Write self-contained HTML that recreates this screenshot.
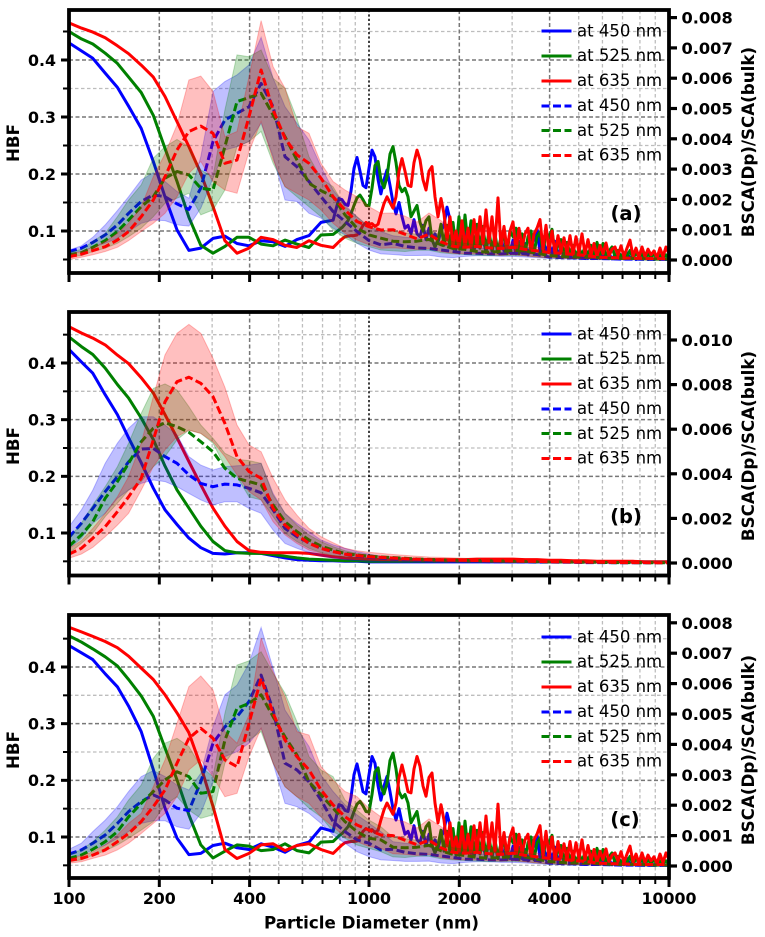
<!DOCTYPE html>
<html lang="en">
<head>
<meta charset="utf-8">
<title>HBF and BSCA versus particle diameter</title>
<style>
html,body{margin:0;padding:0;background:#fff}
svg{display:block}
text{font-family:"DejaVu Sans","Liberation Sans",sans-serif;fill:#000}
.tick-label{font-weight:bold;font-size:15.8px}
.tick-right{font-weight:bold;font-size:16.2px}
.axis-title{font-weight:bold;font-size:16.7px}
.legend-text{font-size:16.5px}
.panel-tag{font-weight:bold;font-size:19.5px}
.spine{fill:none;stroke:#000;stroke-width:3.8}
.h-s{fill:none;stroke-width:3}
.h-d{fill:none;stroke-width:3;stroke-dasharray:8 3.5}
</style>
</head>
<body>
<svg id="figure" width="765" height="937" viewBox="0 0 765 937" xmlns="http://www.w3.org/2000/svg">
<defs>
<clipPath id="clip-a"><rect x="69" y="10" width="600" height="263"/></clipPath>
<clipPath id="clip-b"><rect x="69" y="312" width="600" height="263.5"/></clipPath>
<clipPath id="clip-c"><rect x="69" y="615" width="600" height="263"/></clipPath>
</defs>
<rect width="765" height="937" fill="#fff"/>

<g id="panel-a">
<g id="grid-a"></g>
<g id="marks-a" clip-path="url(#clip-a)"></g>
<g id="ticks-a"></g>
<rect class="spine" x="69" y="10" width="600" height="263"/>
<text class="axis-title" transform="translate(19,143) rotate(-90)" text-anchor="middle">HBF</text>
<text class="axis-title" transform="translate(754,142) rotate(-90)" text-anchor="middle">BSCA(Dp)/SCA(bulk)</text>
<text class="panel-tag" x="626" y="220" text-anchor="middle">(a)</text>
<g>
<g><line class="h-s" x1="541.5" x2="571.5" y1="31" y2="31" stroke="#0000ff"/><text class="legend-text" x="577" y="36.5">at 450 nm</text></g>
<g><line class="h-s" x1="541.5" x2="571.5" y1="56" y2="56" stroke="#008000"/><text class="legend-text" x="577" y="61">at 525 nm</text></g>
<g><line class="h-s" x1="541.5" x2="571.5" y1="81" y2="81" stroke="#ff0000"/><text class="legend-text" x="577" y="86">at 635 nm</text></g>
<g><line class="h-d" x1="541.5" x2="571.5" y1="106" y2="106" stroke="#0000ff"/><text class="legend-text" x="577" y="111">at 450 nm</text></g>
<g><line class="h-d" x1="541.5" x2="571.5" y1="130.5" y2="130.5" stroke="#008000"/><text class="legend-text" x="577" y="136">at 525 nm</text></g>
<g><line class="h-d" x1="541.5" x2="571.5" y1="155.5" y2="155.5" stroke="#ff0000"/><text class="legend-text" x="577" y="160.5">at 635 nm</text></g>
</g>
</g>

<g id="panel-b">
<g id="grid-b"></g>
<g id="marks-b" clip-path="url(#clip-b)"></g>
<g id="ticks-b"></g>
<rect class="spine" x="69" y="312" width="600" height="263.5"/>
<text class="axis-title" transform="translate(19,446) rotate(-90)" text-anchor="middle">HBF</text>
<text class="axis-title" transform="translate(754,446) rotate(-90)" text-anchor="middle">BSCA(Dp)/SCA(bulk)</text>
<text class="panel-tag" x="626" y="523" text-anchor="middle">(b)</text>
<g>
<g><line class="h-s" x1="541.5" x2="571.5" y1="334" y2="334" stroke="#0000ff"/><text class="legend-text" x="577" y="339.5">at 450 nm</text></g>
<g><line class="h-s" x1="541.5" x2="571.5" y1="359" y2="359" stroke="#008000"/><text class="legend-text" x="577" y="364">at 525 nm</text></g>
<g><line class="h-s" x1="541.5" x2="571.5" y1="384" y2="384" stroke="#ff0000"/><text class="legend-text" x="577" y="389">at 635 nm</text></g>
<g><line class="h-d" x1="541.5" x2="571.5" y1="409" y2="409" stroke="#0000ff"/><text class="legend-text" x="577" y="414">at 450 nm</text></g>
<g><line class="h-d" x1="541.5" x2="571.5" y1="433.5" y2="433.5" stroke="#008000"/><text class="legend-text" x="577" y="439">at 525 nm</text></g>
<g><line class="h-d" x1="541.5" x2="571.5" y1="458.5" y2="458.5" stroke="#ff0000"/><text class="legend-text" x="577" y="463.5">at 635 nm</text></g>
</g>
</g>

<g id="panel-c">
<g id="grid-c"></g>
<g id="marks-c" clip-path="url(#clip-c)"></g>
<g id="ticks-c"></g>
<rect class="spine" x="69" y="615" width="600" height="263"/>
<text class="axis-title" transform="translate(19,750) rotate(-90)" text-anchor="middle">HBF</text>
<text class="axis-title" transform="translate(754,750) rotate(-90)" text-anchor="middle">BSCA(Dp)/SCA(bulk)</text>
<text class="panel-tag" x="625" y="826" text-anchor="middle">(c)</text>
<text class="axis-title" x="371.5" y="928.5" text-anchor="middle">Particle Diameter (nm)</text>
<g>
<g><line class="h-s" x1="541.5" x2="571.5" y1="637" y2="637" stroke="#0000ff"/><text class="legend-text" x="577" y="642.5">at 450 nm</text></g>
<g><line class="h-s" x1="541.5" x2="571.5" y1="662" y2="662" stroke="#008000"/><text class="legend-text" x="577" y="667">at 525 nm</text></g>
<g><line class="h-s" x1="541.5" x2="571.5" y1="687" y2="687" stroke="#ff0000"/><text class="legend-text" x="577" y="692">at 635 nm</text></g>
<g><line class="h-d" x1="541.5" x2="571.5" y1="712" y2="712" stroke="#0000ff"/><text class="legend-text" x="577" y="717">at 450 nm</text></g>
<g><line class="h-d" x1="541.5" x2="571.5" y1="736.5" y2="736.5" stroke="#008000"/><text class="legend-text" x="577" y="742">at 525 nm</text></g>
<g><line class="h-d" x1="541.5" x2="571.5" y1="761.5" y2="761.5" stroke="#ff0000"/><text class="legend-text" x="577" y="766.5">at 635 nm</text></g>
</g>
</g>
</svg>

<script>
/* ---- axis data ---- */
const xMajorTicks=[100,200,400,1000,2000,4000,10000];
const xMajorLabels=["100","200","400","1000","2000","4000","10000"];
const xMinorTicks=[300,500,600,700,800,900,3000,5000,6000,7000,8000,9000];
const hbfMajorTicks=[0.1,0.2,0.3,0.4];
const hbfMajorLabels=["0.1","0.2","0.3","0.4"];
const hbfMinorTicks=[0.05,0.15,0.25,0.35,0.45];
const bscaTicksAC=[0,0.001,0.002,0.003,0.004,0.005,0.006,0.007,0.008];
const bscaLabelsAC=["0.000","0.001","0.002","0.003","0.004","0.005","0.006","0.007","0.008"];
const bscaTicksB=[0,0.002,0.004,0.006,0.008,0.010];
const bscaLabelsB=["0.000","0.002","0.004","0.006","0.008","0.010"];

/* ---- particle diameters (nm) ---- */
const diameters=[100,110,120,132,145,158,174,191,209,229,251,275,302,331,363,398,437,479,525,575,631,692,759,832,912,1000,1096,1202,1318,1445,1585,1738,1905,2089,2291,2512,2754,3020,3311,3631,3981,4365,4786,5248,5754,6310,6918,7586,8318,9120,10000];
const diametersFine=[794,813,832,851,871,891,912,933,955,977,1000,1023,1047,1072,1096,1122,1148,1175,1202,1230,1259,1288,1318,1349,1380,1413,1445,1479,1514,1549,1585,1622,1660,1698,1738,1778,1820,1862,1905,1950,1995,2042,2089,2138,2188,2239,2291,2344,2399,2455,2512,2570,2630,2692,2754,2818,2884,2951,3020,3090,3162,3236,3311,3388,3467,3548,3631,3715,3802,3890,3981,4074,4169,4266,4365,4467,4571,4677,4786,4898,5012,5129,5248,5370,5495,5623,5754,5888,6026,6166,6310,6457,6607,6761,6918,7079,7244,7413,7586,7762,7943,8128,8318,8511,8710,8913,9120,9333,9550,9772,10000];

/* ---- HBF x1000: resonant part above 800 nm, panels a and c ---- */
const hbfFineBlue=[157,155,147,145,170,210,229,205,180,176,210,242,230,190,165,190,207,180,150,130,150,125,105,110,95,120,95,90,110,85,105,85,95,80,100,110,142,120,85,70,95,68,100,75,95,65,92,70,88,62,95,65,85,62,88,65,80,62,84,60,82,62,78,58,75,85,105,62,90,60,80,60,82,56,72,55,70,54,66,53,62,54,65,52,62,52,66,52,62,52,60,51,58,52,58,51,62,52,56,50,56,51,55,50,54,50,55,50,53,50,52];
const hbfFineGreen=[102,106,112,118,130,145,158,163,155,145,144,175,215,222,190,176,195,235,248,220,180,169,175,160,125,135,145,115,100,118,125,85,72,85,112,75,110,72,115,68,125,70,128,75,118,68,112,70,108,65,100,65,95,62,90,95,60,100,90,105,60,95,60,90,100,60,90,98,60,100,88,103,60,75,85,58,80,60,75,55,70,58,72,56,75,54,80,58,78,55,65,72,55,66,54,62,55,66,52,62,54,60,52,60,53,60,52,58,53,58,52];
const hbfFineRed=[81,86,90,91,92,92,93,100,110,115,112,113,108,112,130,148,160,150,140,160,205,227,205,180,178,220,242,225,190,172,205,213,160,125,157,130,84,125,75,100,70,118,72,105,70,120,75,125,78,137,80,125,75,158,72,108,68,100,116,65,105,70,95,105,62,95,105,120,68,110,62,100,60,92,64,88,60,92,58,90,62,95,60,85,58,78,55,75,60,79,56,68,72,57,74,55,70,84,56,70,54,72,55,68,58,65,53,70,55,72,60];

/* ---- HBF x1000 below 800 nm ---- */
const hbfBlueA=[430,416,403,377,352,319,280,222,160,102,66,70,87,91,78,74,83,81,73,85,92,115,119];
const hbfGreenA=[450,437,428,412,394,370,343,303,245,187,124,75,61,73,89,89,77,74,84,77,71,93,94];
const hbfRedA=[465,456,449,439,425,411,391,370,336,292,248,201,143,83,61,70,89,85,75,71,83,75,71];
const hbfBlueC=[438,425,413,388,365,331,286,219,151,98,69,71,85,89,81,78,88,82,73,85,91,116,110];
const hbfGreenC=[455,444,432,418,402,378,349,313,257,201,139,86,63,75,86,84,76,78,88,76,72,91,92];
const hbfRedC=[470,462,454,445,434,419,398,378,351,319,284,225,154,78,62,71,86,88,76,85,88,78,71];
const hbfBlueB=[424,402,382,344,309,268,224,179,141,115,91,74,64,63,65,65,64,60,56,53,52,51,51,50,50,49,49,49,49,49,49,49,49,49,49,49,49,49,49,49,49,49,49,49,49,49,49,49,49,49,49];
const hbfGreenB=[446,429,415,391,362,338,303,265,218,176,144,112,85,69,65,64,64,62,59,56,54,53,52,51,51,50,50,50,50,50,50,50,50,50,50,50,50,50,50,50,49,49,49,49,49,49,49,49,49,49,49];
const hbfRedB=[464,453,444,432,414,399,374,347,309,268,226,185,144,112,85,69,66,65,65,65,64,61,58,56,55,54,53,53,53,53,53,53,53,53,54,54,54,54,53,53,52,52,51,51,50,50,50,50,49,49,49];

/* ---- BSCA/SCA x1000, above 1100 nm, panels a and c ---- */
const bscaTailBlue=[0.55,0.45,0.40,0.38,0.33,0.28,0.22,0.22,0.20,0.20,0.22,0.20,0.18,0.10,0.08,0.07,0.05,0.05,0.04,0.03,0.03,0.02,0.02,0.02];
const bscaTailBlueLow=[0.18,0.15,0.15,0.16,0.10,0.08,0.12,0.14,0.14,0.12,0.12,0.10,0.08,0.05,0.04,0.03,0.03,0.02,0.02,0.01,0.01,0.01,0.01,0.01];
const bscaTailBlueHigh=[0.80,0.75,0.72,0.62,0.55,0.48,0.42,0.40,0.38,0.35,0.38,0.33,0.25,0.15,0.12,0.10,0.08,0.07,0.06,0.05,0.04,0.04,0.03,0.03];
const bscaTailGreen=[0.62,0.60,0.62,0.68,0.50,0.38,0.35,0.28,0.26,0.28,0.32,0.30,0.22,0.15,0.12,0.10,0.10,0.08,0.06,0.05,0.05,0.04,0.03,0.03];
const bscaTailGreenLow=[0.30,0.28,0.32,0.32,0.24,0.20,0.18,0.16,0.14,0.15,0.15,0.14,0.10,0.07,0.05,0.04,0.04,0.03,0.02,0.02,0.02,0.01,0.01,0.01];
const bscaTailGreenHigh=[0.95,0.90,0.85,1.00,0.80,0.60,0.55,0.50,0.45,0.48,0.50,0.45,0.35,0.25,0.20,0.16,0.14,0.12,0.10,0.08,0.07,0.06,0.05,0.04];
const bscaTailRed=[1.00,0.85,0.70,0.85,0.60,0.45,0.42,0.45,0.40,0.38,0.42,0.35,0.30,0.25,0.22,0.18,0.15,0.10,0.08,0.07,0.06,0.05,0.05,0.04];
const bscaTailRedLow=[0.40,0.38,0.35,0.38,0.28,0.22,0.20,0.20,0.18,0.16,0.18,0.14,0.10,0.08,0.06,0.05,0.04,0.03,0.03,0.02,0.02,0.01,0.01,0.01];
const bscaTailRedHigh=[1.55,1.45,1.25,1.55,1.30,0.95,0.70,0.70,0.62,0.58,0.60,0.50,0.42,0.35,0.30,0.25,0.20,0.15,0.12,0.10,0.09,0.08,0.07,0.06];

/* ---- BSCA/SCA x1000, panel a ---- */
const bscaBlueA=[0.28,0.39,0.58,0.83,1.16,1.54,1.93,2.15,2.09,1.85,1.67,2.37,3.91,4.62,4.84,5.06,5.83,5.06,3.41,3.08,2.59,2.09,1.60,1.27,0.94,0.64,0.50];
const bscaBlueLowA=[0.22,0.28,0.42,0.55,0.72,0.94,1.21,1.32,1.30,1.16,1.12,1.71,2.70,3.63,3.74,3.91,4.51,3.41,1.98,1.93,1.54,1.38,1.05,0.83,0.55,0.33,0.20];
const bscaBlueHighA=[0.33,0.47,0.75,1.16,1.63,2.09,2.64,2.88,2.59,2.26,2.04,3.41,5.56,5.89,6.11,6.44,7.35,6.00,5.06,4.51,3.96,3.08,2.31,1.82,1.43,1.10,0.94];
const bscaGreenA=[0.17,0.24,0.42,0.64,0.94,1.32,1.76,2.09,2.70,2.92,2.81,2.37,2.31,3.74,5.23,5.36,5.50,4.79,4.07,3.30,2.53,2.29,2.09,1.49,1.05,0.83,0.72];
const bscaGreenLowA=[0.10,0.15,0.28,0.39,0.55,0.77,1.05,1.43,1.87,2.04,2.20,1.49,1.65,2.31,3.74,3.91,4.24,3.19,2.42,2.09,1.76,1.43,0.99,0.72,0.55,0.44,0.33];
const bscaGreenHighA=[0.25,0.35,0.61,0.88,1.43,1.98,2.48,3.36,3.74,3.98,3.74,2.97,2.75,4.95,6.77,6.71,6.93,6.00,5.67,4.67,3.41,2.70,2.42,1.76,1.43,1.10,0.99];
const bscaRedA=[0.11,0.19,0.31,0.44,0.66,0.94,1.43,1.98,2.75,3.63,4.24,4.42,4.18,3.19,3.30,4.73,6.27,4.95,4.02,3.47,3.19,2.70,2.09,1.65,1.27,1.10,0.99];
const bscaRedLowA=[0.02,0.09,0.17,0.28,0.42,0.64,0.94,1.21,1.54,2.09,2.86,3.25,2.59,2.31,2.20,3.58,4.57,3.30,2.42,2.20,1.98,1.65,1.21,0.88,0.66,0.50,0.39];
const bscaRedHighA=[0.19,0.28,0.42,0.61,0.88,1.21,1.76,2.75,3.50,4.46,5.94,6.07,5.56,4.07,4.24,6.05,7.90,6.38,5.67,4.40,4.18,3.19,2.59,2.31,2.09,1.76,1.54];

/* ---- BSCA/SCA x1000, panel c ---- */
const bscaBlueC=[0.39,0.53,0.75,1.02,1.40,1.79,2.12,2.34,2.17,1.90,1.82,2.77,4.04,4.58,4.91,5.41,6.28,5.13,3.38,3.16,2.77,2.17,1.46,1.13,0.86,0.75,0.53];
const bscaBlueLowC=[0.25,0.36,0.53,0.69,0.91,1.13,1.40,1.49,1.49,1.29,1.21,1.73,2.77,3.60,3.76,4.04,4.53,3.38,2.06,1.95,1.73,1.40,1.02,0.75,0.47,0.31,0.20];
const bscaBlueHighC=[0.55,0.75,1.13,1.51,1.95,2.45,2.94,3.14,2.94,2.66,2.50,3.05,4.58,5.63,5.95,6.67,7.85,6.50,5.13,4.53,3.93,2.99,2.45,2.01,1.68,1.40,1.13];
const bscaGreenC=[0.25,0.36,0.55,0.80,1.13,1.62,2.06,2.45,2.83,3.10,2.94,2.39,2.45,4.14,5.19,5.35,5.63,4.91,4.25,3.65,2.77,2.34,1.90,1.46,1.13,0.91,0.86];
const bscaGreenLowC=[0.14,0.20,0.36,0.50,0.69,0.91,1.18,1.46,2.01,2.28,1.84,1.57,1.68,3.38,3.93,4.14,4.42,3.38,2.61,2.28,1.90,1.62,1.13,0.91,0.69,0.58,0.47];
const bscaGreenHighC=[0.39,0.53,0.80,1.18,1.62,2.17,2.66,3.54,4.04,4.20,3.93,3.27,2.94,5.02,6.61,6.75,7.05,6.34,5.68,4.75,3.60,3.16,2.94,2.17,1.84,1.51,1.29];
const bscaRedC=[0.18,0.25,0.36,0.53,0.80,1.07,1.46,1.95,2.50,3.38,4.20,4.53,4.20,3.49,3.27,4.69,6.17,5.02,4.14,3.60,3.16,2.50,2.01,1.62,1.35,1.18,1.02];
const bscaRedLowC=[0.09,0.14,0.25,0.36,0.53,0.75,1.07,1.40,1.73,2.28,3.16,3.49,2.94,2.28,2.39,3.60,4.53,3.38,2.61,2.28,2.06,1.62,1.29,0.96,0.80,0.64,0.58];
const bscaRedHighC=[0.25,0.33,0.47,0.69,1.02,1.40,1.73,2.61,3.49,4.69,5.90,6.25,5.79,4.42,4.04,4.97,7.50,6.39,5.57,4.42,4.31,3.27,2.83,2.45,2.28,1.90,1.62];

/* ---- BSCA/SCA x1000, panel b ---- */
const bscaBlueB=[1.15,1.78,2.45,3.20,3.87,4.54,5.11,5.14,4.77,4.47,3.95,3.57,3.42,3.54,3.50,3.35,3.15,2.38,1.55,1.18,0.91,0.66,0.51,0.40,0.31,0.25,0.21,0.17,0.14,0.12,0.10,0.09,0.08,0.07,0.07,0.06,0.06,0.05,0.05,0.04,0.04,0.03,0.03,0.02,0.02,0.02,0.01,0.01,0.01,0.01,0.01];
const bscaBlueLowB=[0.66,1.11,1.78,2.23,2.90,3.27,3.57,3.72,3.65,3.42,3.12,2.83,2.60,2.75,2.75,2.45,2.23,1.48,0.88,0.66,0.46,0.31,0.21,0.15,0.10,0.07,0.06,0.05,0.04,0.03,0.03,0.02,0.02,0.02,0.02,0.02,0.01,0.01,0.01,0.01,0.01,0.01,0.01,0.01,0.00,0.00,0.00,0.00,0.00,0.00,0.00];
const bscaBlueHighB=[1.63,2.38,3.27,4.47,5.37,6.04,6.56,6.56,6.19,5.74,4.77,4.39,4.17,4.32,4.36,4.39,4.47,3.12,2.23,1.78,1.41,1.03,0.81,0.66,0.51,0.40,0.31,0.26,0.22,0.19,0.17,0.15,0.13,0.12,0.10,0.09,0.08,0.07,0.06,0.05,0.05,0.04,0.03,0.03,0.02,0.02,0.02,0.01,0.01,0.01,0.01];
const bscaGreenB=[0.76,1.26,1.85,2.90,3.65,4.47,5.44,6.04,6.29,6.11,5.86,5.44,4.99,4.25,3.80,3.65,3.50,2.60,1.85,1.41,1.03,0.76,0.58,0.43,0.36,0.31,0.27,0.24,0.21,0.18,0.16,0.14,0.13,0.12,0.11,0.10,0.09,0.08,0.07,0.06,0.05,0.05,0.04,0.03,0.03,0.02,0.02,0.02,0.01,0.01,0.01];
const bscaGreenLowB=[0.43,0.88,1.33,2.08,2.68,3.27,3.65,4.32,4.77,5.52,5.96,5.81,5.37,4.32,3.87,2.97,2.83,2.08,1.33,0.96,0.66,0.46,0.33,0.24,0.18,0.13,0.10,0.08,0.07,0.06,0.05,0.04,0.04,0.03,0.03,0.03,0.02,0.02,0.02,0.02,0.01,0.01,0.01,0.01,0.01,0.01,0.00,0.00,0.00,0.00,0.00];
const bscaGreenHighB=[1.11,1.78,2.60,3.42,4.32,5.37,6.71,7.83,8.03,7.76,7.01,6.19,5.59,4.92,4.65,4.59,4.47,3.05,2.23,1.70,1.26,0.96,0.73,0.55,0.43,0.36,0.31,0.28,0.25,0.22,0.20,0.18,0.17,0.15,0.14,0.13,0.12,0.11,0.10,0.09,0.08,0.07,0.06,0.05,0.04,0.03,0.03,0.02,0.02,0.02,0.01];
const bscaRedB=[0.40,0.66,1.11,1.63,2.30,2.97,3.80,5.52,7.23,8.13,8.33,8.06,7.46,6.26,4.77,4.10,3.80,2.45,1.70,1.26,0.88,0.66,0.51,0.40,0.33,0.28,0.25,0.22,0.19,0.17,0.15,0.14,0.13,0.12,0.11,0.10,0.10,0.09,0.08,0.07,0.06,0.05,0.04,0.04,0.03,0.03,0.02,0.02,0.02,0.01,0.01];
const bscaRedLowB=[0.21,0.40,0.70,1.18,1.70,2.23,3.27,4.32,5.07,5.67,5.96,5.81,5.44,4.77,3.95,3.20,2.83,1.85,1.26,0.88,0.58,0.43,0.31,0.24,0.19,0.15,0.12,0.10,0.09,0.08,0.07,0.06,0.06,0.05,0.05,0.04,0.04,0.03,0.03,0.03,0.02,0.02,0.02,0.01,0.01,0.01,0.01,0.00,0.00,0.00,0.00];
const bscaRedHighB=[0.66,1.00,1.55,2.23,2.97,3.87,5.37,7.46,9.33,10.30,10.70,10.30,9.18,7.88,6.19,5.29,4.99,3.80,2.83,2.15,1.55,1.18,0.91,0.66,0.55,0.48,0.43,0.38,0.34,0.30,0.27,0.25,0.23,0.21,0.20,0.19,0.18,0.16,0.14,0.12,0.10,0.09,0.07,0.06,0.05,0.05,0.04,0.03,0.03,0.02,0.02];

/* ---- layout (pixels) ---- */
const layouts={
  a:{top:10,bottom:273,hbf01:231,hbf04:60,bsca0:260,pxPerMilli:30.3},
  b:{top:312,bottom:575.5,hbf01:533,hbf04:363,bsca0:563,pxPerMilli:22.3},
  c:{top:615,bottom:878,hbf01:837,hbf04:667,bsca0:866,pxPerMilli:30.4}
};
const LEFT=69,RIGHT=669;
const BLUE='#0000ff',GREEN='#008000',RED='#ff0000';
const NS='http://www.w3.org/2000/svg';

function xScale(d){return LEFT+(RIGHT-LEFT)/2*Math.log10(d/100);}
function hbfScale(L,v){return L.hbf01+(v-0.1)*(L.hbf04-L.hbf01)/0.3;}
function bscaScale(L,milli){return L.bsca0-milli*L.pxPerMilli;}
function mk(tag,parent,attrs){
  const el=document.createElementNS(NS,tag);
  for(const k in attrs){el.setAttribute(k,attrs[k]);}
  parent.appendChild(el);
  return el;
}
function pts(xs,vals,yf){
  const out=[];
  const n=Math.min(xs.length,vals.length);
  for(let i=0;i<n;i++){out.push(xScale(xs[i]).toFixed(1)+','+yf(vals[i]).toFixed(1));}
  return out;
}

function drawFrame(id,bscaTicks,bscaLabels,showX){
  const L=layouts[id];
  const g=document.getElementById('grid-'+id);
  const t=document.getElementById('ticks-'+id);
  hbfMinorTicks.forEach(function(v){
    const y=hbfScale(L,v);
    const line=mk('line',g,{x1:LEFT,x2:RIGHT,y1:y,y2:y,stroke:'#bdbdbd','stroke-width':1.3,'stroke-dasharray':'3.5 2.5'});
    
    
    const tk=mk('line',t,{x1:LEFT-6,x2:LEFT,y1:y,y2:y,stroke:'#000','stroke-width':2});
    
    
  });
  xMinorTicks.forEach(function(d){
    const x=xScale(d);
    const line=mk('line',g,{x1:x,x2:x,y1:L.top,y2:L.bottom,stroke:'#bdbdbd','stroke-width':1.3,'stroke-dasharray':'3.5 2.5'});
    
    
    const tk=mk('line',t,{x1:x,x2:x,y1:L.bottom,y2:L.bottom+6,stroke:'#000','stroke-width':2});
    
    
  });
  hbfMajorTicks.forEach(function(v,i){
    const y=hbfScale(L,v);
    const line=mk('line',g,{x1:LEFT,x2:RIGHT,y1:y,y2:y,stroke:'#777','stroke-width':1.5,'stroke-dasharray':'4 2.5'});
    
    
    const tk=mk('line',t,{x1:LEFT-8,x2:LEFT,y1:y,y2:y,stroke:'#000','stroke-width':3});
    
    
    const lb=mk('text',t,{x:LEFT-13,y:y+5.8,'text-anchor':'end','class':'tick-label'});
    lb.textContent=hbfMajorLabels[i];
    
    
  });
  xMajorTicks.forEach(function(d,i){
    const x=xScale(d);
    if(d>100&&d<10000){
      const black=d===1000;
      const line=mk('line',g,{x1:x,x2:x,y1:L.top,y2:L.bottom,stroke:black?'#000':'#777','stroke-width':1.5,'stroke-dasharray':black?'2.2 2.2':'4 2.5'});
      
      
    }
    const tk=mk('line',t,{x1:x,x2:x,y1:L.bottom,y2:L.bottom+9,stroke:'#000','stroke-width':3});
    
    
    if(showX){
      const lb=mk('text',t,{x:x,y:L.bottom+26,'text-anchor':'middle','class':'tick-label'});
      lb.textContent=xMajorLabels[i];
      
      
    }
  });
  bscaTicks.forEach(function(v,i){
    const y=bscaScale(L,v*1000);
    const tk=mk('line',t,{x1:RIGHT,x2:RIGHT+8,y1:y,y2:y,stroke:'#000','stroke-width':3.2});
    
    
    const lb=mk('text',t,{x:RIGHT+12.5,y:y+6,'class':'tick-right'});
    lb.textContent=bscaLabels[i];
    
    
  });
}

function drawSolid(id,xs,vals,color,label){
  const L=layouts[id];
  const g=document.getElementById('marks-'+id);
  const line=mk('polyline',g,{points:pts(xs,vals,function(v){return hbfScale(L,v/1000);}).join(' '),fill:'none',stroke:color,'stroke-width':3,'stroke-linejoin':'round'});
  
  
}
function drawBand(id,low,high,color,label){
  const L=layouts[id];
  const g=document.getElementById('marks-'+id);
  const yf=function(v){return bscaScale(L,v);};
  const upper=pts(diameters,high,yf);
  const lower=pts(diameters,low,yf).reverse();
  const band=mk('polygon',g,{points:upper.concat(lower).join(' '),fill:color,'fill-opacity':0.25,stroke:color,'stroke-opacity':0.25,'stroke-width':1});
  
  
}
function drawDashed(id,vals,color,label){
  const L=layouts[id];
  const g=document.getElementById('marks-'+id);
  const line=mk('polyline',g,{points:pts(diameters,vals,function(v){return bscaScale(L,v);}).join(' '),fill:'none',stroke:color,'stroke-width':3,'stroke-dasharray':'8 3.5','stroke-linejoin':'round'});
  
  
}

const solidXs=diameters.slice(0,23).concat(diametersFine);

drawFrame('a',bscaTicksAC,bscaLabelsAC,false);
drawFrame('b',bscaTicksB,bscaLabelsB,false);
drawFrame('c',bscaTicksAC,bscaLabelsAC,true);

/* panel a */
drawSolid('a',solidXs,hbfBlueA.concat(hbfFineBlue),BLUE,'450');
drawSolid('a',solidXs,hbfGreenA.concat(hbfFineGreen),GREEN,'525');
drawSolid('a',solidXs,hbfRedA.concat(hbfFineRed),RED,'635');
drawBand('a',bscaBlueLowA.concat(bscaTailBlueLow),bscaBlueHighA.concat(bscaTailBlueHigh),BLUE,'450');
drawDashed('a',bscaBlueA.concat(bscaTailBlue),BLUE,'450');
drawBand('a',bscaGreenLowA.concat(bscaTailGreenLow),bscaGreenHighA.concat(bscaTailGreenHigh),GREEN,'525');
drawDashed('a',bscaGreenA.concat(bscaTailGreen),GREEN,'525');
drawBand('a',bscaRedLowA.concat(bscaTailRedLow),bscaRedHighA.concat(bscaTailRedHigh),RED,'635');
drawDashed('a',bscaRedA.concat(bscaTailRed),RED,'635');

/* panel b */
drawSolid('b',diameters,hbfBlueB,BLUE,'450');
drawSolid('b',diameters,hbfGreenB,GREEN,'525');
drawSolid('b',diameters,hbfRedB,RED,'635');
drawBand('b',bscaBlueLowB,bscaBlueHighB,BLUE,'450');
drawDashed('b',bscaBlueB,BLUE,'450');
drawBand('b',bscaGreenLowB,bscaGreenHighB,GREEN,'525');
drawDashed('b',bscaGreenB,GREEN,'525');
drawBand('b',bscaRedLowB,bscaRedHighB,RED,'635');
drawDashed('b',bscaRedB,RED,'635');

/* panel c */
drawSolid('c',solidXs,hbfBlueC.concat(hbfFineBlue),BLUE,'450');
drawSolid('c',solidXs,hbfGreenC.concat(hbfFineGreen),GREEN,'525');
drawSolid('c',solidXs,hbfRedC.concat(hbfFineRed),RED,'635');
drawBand('c',bscaBlueLowC.concat(bscaTailBlueLow),bscaBlueHighC.concat(bscaTailBlueHigh),BLUE,'450');
drawDashed('c',bscaBlueC.concat(bscaTailBlue),BLUE,'450');
drawBand('c',bscaGreenLowC.concat(bscaTailGreenLow),bscaGreenHighC.concat(bscaTailGreenHigh),GREEN,'525');
drawDashed('c',bscaGreenC.concat(bscaTailGreen),GREEN,'525');
drawBand('c',bscaRedLowC.concat(bscaTailRedLow),bscaRedHighC.concat(bscaTailRedHigh),RED,'635');
drawDashed('c',bscaRedC.concat(bscaTailRed),RED,'635');
</script>
</body>
</html>
